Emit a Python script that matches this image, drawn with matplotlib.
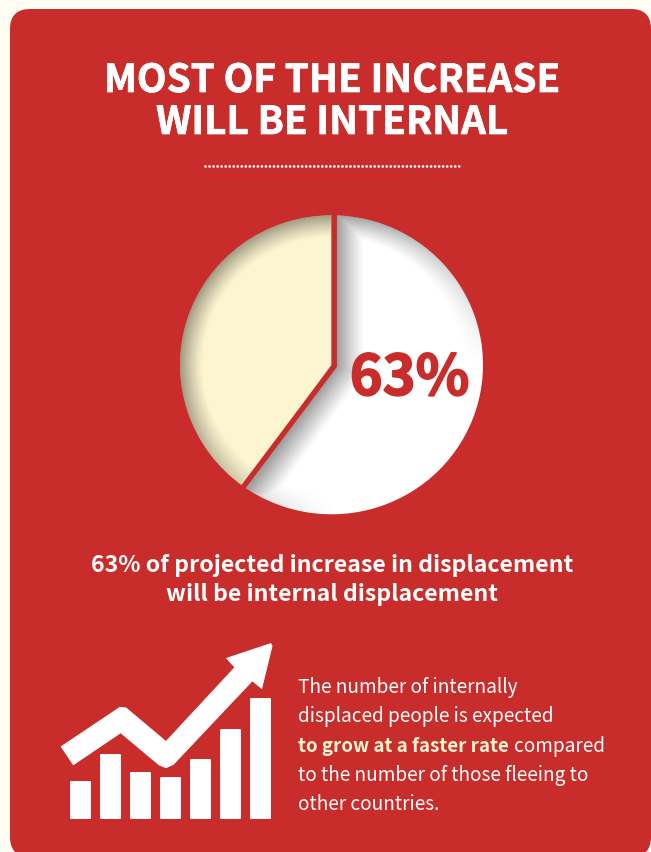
import numpy as np
import matplotlib
matplotlib.use("Agg")
import matplotlib.pyplot as plt
import matplotlib.patheffects as pe
from matplotlib.patches import FancyBboxPatch, Polygon

# colours
page_col = "#FFFDF1"
red = "#C92D2B"
cream = "#FDF5D0"

# pie shares as drawn (the slice itself is a bit smaller than its 63% label)
pie_values = [59.9, 40.1]
pie_colors = ["white", cream]
pie_label = "63%"

# little bar icon, heights in px
icon_heights = [38, 65, 47, 42, 60, 90, 121]
icon_x = [80.7, 110.7, 140.3, 170.3, 200, 230, 260]

title_lines = ["MOST OF THE INCREASE", "WILL BE INTERNAL"]
sub_lines = ["63% of projected increase in displacement", "will be internal displacement"]

W, H = 651, 852
plt.rcParams["font.family"] = ["Noto Sans CJK SC", "DejaVu Sans"]
fig = plt.figure(figsize=(W / 100, H / 100), dpi=100, facecolor=page_col)

# main axes work in image pixels, y going down
ax = fig.add_axes([0, 0, 1, 1])
ax.set_xlim(0, W)
ax.set_ylim(H, 0)
ax.axis("off")

ax.add_patch(FancyBboxPatch((10, 9), 641, 848, boxstyle="round,pad=0,rounding_size=20", fc=red, ec="none"))

# title and dotted rule, a thin stroke makes the bold heavier
title_fx = [pe.withStroke(linewidth=0.5, foreground="white")]
ax.text(332, 92, title_lines[0], color="white", fontsize=27.8, fontweight="bold", ha="center", va="baseline",
        path_effects=title_fx)
ax.text(332, 134, title_lines[1], color="white", fontsize=27.8, fontweight="bold", ha="center", va="baseline",
        path_effects=title_fx)
ax.plot([205, 459], [166, 166], color="white", lw=2.0, dash_capstyle="round", linestyle=(0, (0.01, 1.44)))

# pie sits in its own axes, the reference circle is slightly squashed
Rx, Ry = 151.5, 149.5
cx, cy = 331.5, 364.8
pad = 1.1
pie_ax = fig.add_axes([(cx - pad * Rx) / W, 1 - (cy + pad * Ry) / H, 2 * pad * Rx / W, 2 * pad * Ry / H])
wedges, _ = pie_ax.pie(pie_values, colors=pie_colors, startangle=90, counterclock=False, radius=1,
                       wedgeprops={"linewidth": 0})

# inner shadows, light comes from the lower right
gx, gy = np.meshgrid(np.linspace(-pad, pad, 700), np.linspace(pad, -pad, 700))
r = np.hypot(gx, gy) + 1e-6
facing = (gx - gy) / (r * np.sqrt(2))
side = np.clip(0.55 - 0.75 * facing, 0, 1)
a_arc = side * (1 - np.clip((1 - r) / 0.15, 0, 1)) ** 1.2

t = np.radians(pie_values[0] / 100 * 360)
d1 = gx - 0.036
d2 = -np.cos(t) * (gx - 0.0185) + np.sin(t) * (gy + 0.01) - 0.0165
a_edge = (1 - np.clip(np.maximum(d1, d2) / 0.175, 0, 1)) ** 1.1

for wedge, a in zip(wedges, [np.maximum(a_arc, a_edge), a_arc]):
    rgba = np.zeros(a.shape + (4,))
    rgba[..., 3] = 0.37 * a
    im = pie_ax.imshow(rgba, extent=(-pad, pad, -pad, pad), zorder=3, interpolation="bilinear", aspect="auto")
    im.set_clip_path(wedge)

# red divider between the slices
pie_ax.plot([334.3, 334.3, 241], [205, 366, 490], transform=ax.transData, color=red, lw=3.8,
            solid_joinstyle="miter", solid_capstyle="butt", zorder=4)
pie_ax.set_aspect("auto")
pie_ax.set_xlim(-pad, pad)
pie_ax.set_ylim(-pad, pad)

pie_ax.text(409.5, 395, pie_label, transform=ax.transData, color=red, fontsize=40.2, fontweight="bold",
            ha="center", va="baseline", zorder=5, path_effects=[pe.withStroke(linewidth=1.2, foreground=red)])

# subtitle
ax.text(332, 572, sub_lines[0], color="white", fontsize=16.65, fontweight="bold", ha="center", va="baseline")
ax.text(332, 601, sub_lines[1], color="white", fontsize=16.65, fontweight="bold", ha="center", va="baseline")

# icon: arrow then bars
arrow_zoom = [(64, 350), (240, 232), (258, 234), (378, 335), (585, 112), (560, 85), (692, 41), (696, 48),
              (665, 175), (637, 152), (400, 403), (378, 413), (358, 405), (242, 308), (100, 404)]
arrow_pts = [(40 + x / 3, 630 + y / 3) for x, y in arrow_zoom]
ax.add_patch(Polygon(arrow_pts, closed=True, fc="white", ec="white", lw=0.7, joinstyle="round"))
ax.bar(icon_x, [-(h - 2) for h in icon_heights], width=19, bottom=818, color="white", edgecolor="white",
       linewidth=1.4, joinstyle="round")
ax.set_xlim(0, W)
ax.set_ylim(H, 0)

# paragraph
fs = 13.7
ax.text(298, 693, "The number of internally", color="white", fontsize=fs, va="baseline")
ax.text(298, 722, "displaced people is expected", color="white", fontsize=fs, va="baseline")
ax.text(298, 752, "to grow at a faster rate", color=cream, fontsize=13.5, fontweight="bold", va="baseline")
ax.text(514, 752, "compared", color="white", fontsize=fs, va="baseline")
ax.text(298, 781, "to the number of those fleeing to", color="white", fontsize=fs, va="baseline")
ax.text(298, 810, "other countries.", color="white", fontsize=fs, va="baseline")

fig.savefig("out.png", dpi=100, facecolor=page_col)
